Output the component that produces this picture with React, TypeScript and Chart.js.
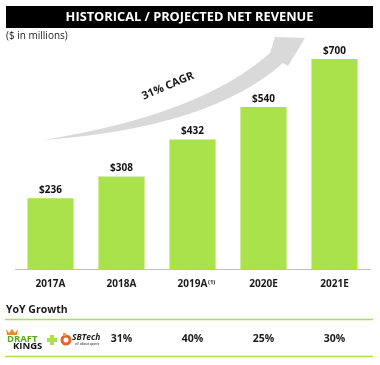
import React, { useEffect, useRef } from "react";
import { Chart, registerables } from "chart.js";

Chart.register(...registerables);

const categories = ["2017A", "2018A", "2019A", "2020E", "2021E"];
const netRevenue = [236, 308, 432, 540, 700];
const yoyGrowth: (number | null)[] = [null, 31, 40, 25, 30];
const footnoteCategory = "2019A";
const footnoteMark = "(1)";
const titleText = "HISTORICAL / PROJECTED NET REVENUE";
const unitsText = "($ in millions)";
const cagrText = "31% CAGR";
const yoyHeader = "YoY Growth";

const GREEN = "#a9e24b";
const FONT = "'Open Sans', 'DejaVu Sans', sans-serif";

const overlay = {
  id: "overlay",
  beforeDatasetsDraw(chart: any) {
    const ctx = chart.ctx;
    ctx.save();
    // curved arrow
    ctx.fillStyle = "#d9d9d9";
    ctx.beginPath();
    ctx.moveTo(43, 140);
    ctx.quadraticCurveTo(200, 115, 270, 53);
    ctx.lineTo(275, 37);
    ctx.lineTo(305, 38);
    ctx.lineTo(288, 66);
    ctx.lineTo(283, 63);
    ctx.quadraticCurveTo(210, 128, 43, 140);
    ctx.closePath();
    ctx.fill();
    // CAGR text
    ctx.translate(168, 86);
    ctx.rotate((-23 * Math.PI) / 180);
    ctx.fillStyle = "#1a1a1a";
    ctx.font = `bold 11px ${FONT}`;
    ctx.textAlign = "center";
    ctx.textBaseline = "middle";
    ctx.fillText(cagrText, 0, 0);
    ctx.restore();
  },
  afterDraw(chart: any) {
    const ctx = chart.ctx;
    const xScale = chart.scales.x;
    ctx.save();
    // title bar
    ctx.fillStyle = "#000000";
    ctx.fillRect(6, 6, 367, 22);
    ctx.fillStyle = "#ffffff";
    ctx.font = `bold 12.8px ${FONT}`;
    ctx.textAlign = "center";
    ctx.textBaseline = "middle";
    ctx.fillText(titleText, 189.5, 17.5);
    // units
    ctx.fillStyle = "#1a1a1a";
    ctx.font = `10px ${FONT}`;
    ctx.textAlign = "left";
    ctx.fillText(unitsText, 6, 36);
    // value labels
    const meta = chart.getDatasetMeta(0);
    ctx.font = `bold 10px ${FONT}`;
    ctx.textAlign = "center";
    ctx.fillStyle = "#111111";
    meta.data.forEach((bar: any, i: number) => {
      ctx.fillText("$" + netRevenue[i], bar.x, bar.y - 8);
    });
    // footnote mark on tick
    const fi = categories.indexOf(footnoteCategory);
    if (fi >= 0) {
      const px = xScale.getPixelForValue(fi);
      ctx.font = `bold 10px ${FONT}`;
      const w = ctx.measureText(footnoteCategory).width;
      ctx.font = `bold 6px ${FONT}`;
      ctx.textAlign = "left";
      ctx.fillStyle = "#1a1a1a";
      ctx.fillText(footnoteMark, px + w / 2 + 0.5, 282);
    }
    // YoY header
    ctx.font = `bold 10.5px ${FONT}`;
    ctx.textAlign = "left";
    ctx.fillStyle = "#1a1a1a";
    ctx.fillText(yoyHeader, 6, 310);
    // green lines
    ctx.strokeStyle = GREEN;
    ctx.lineWidth = 1.5;
    ctx.beginPath();
    ctx.moveTo(5, 319.5);
    ctx.lineTo(373, 319.5);
    ctx.moveTo(5, 356.5);
    ctx.lineTo(373, 356.5);
    ctx.stroke();
    // logos (approximation)
    ctx.fillStyle = "#f08a24";
    ctx.beginPath();
    ctx.moveTo(6, 329);
    ctx.lineTo(9, 333);
    ctx.lineTo(12, 329);
    ctx.lineTo(15, 333);
    ctx.lineTo(18, 329);
    ctx.lineTo(17, 335);
    ctx.lineTo(7, 335);
    ctx.closePath();
    ctx.fill();
    ctx.font = `bold 9.5px ${FONT}`;
    ctx.fillStyle = "#5aa81e";
    ctx.textAlign = "left";
    ctx.fillText("DRAFT", 7, 339);
    ctx.fillStyle = "#111111";
    ctx.fillText("KINGS", 13, 346.5);
    // plus
    ctx.fillStyle = GREEN;
    ctx.fillRect(47, 338, 10, 4);
    ctx.fillRect(50, 335, 4, 10);
    // SBTech icon
    ctx.fillStyle = "#e8622a";
    ctx.beginPath();
    ctx.arc(66, 340, 5.5, 0, Math.PI * 2);
    ctx.fill();
    ctx.fillStyle = "#ffffff";
    ctx.beginPath();
    ctx.arc(66, 340, 2.5, 0, Math.PI * 2);
    ctx.fill();
    ctx.fillStyle = "#f4a04a";
    ctx.fillRect(63, 333, 3, 3);
    ctx.fillStyle = "#222222";
    ctx.font = `italic bold 8.5px ${FONT}`;
    ctx.fillText("SBTech", 72, 337.5);
    ctx.font = `italic 3.5px ${FONT}`;
    ctx.fillText("all about sports", 75, 344);
    // percentages
    ctx.font = `bold 10.5px ${FONT}`;
    ctx.textAlign = "center";
    ctx.fillStyle = "#1a1a1a";
    yoyGrowth.forEach((g, i) => {
      if (g === null) return;
      ctx.fillText(g + "%", xScale.getPixelForValue(i), 339);
    });
    ctx.restore();
  },
};

export default function App() {
  const ref = useRef<HTMLCanvasElement | null>(null);
  useEffect(() => {
    if (!ref.current) return;
    const chart = new Chart(ref.current, {
      type: "bar",
      data: {
        labels: categories,
        datasets: [
          {
            data: netRevenue,
            backgroundColor: GREEN,
            borderWidth: 0,
            barPercentage: 0.65,
            categoryPercentage: 1,
          },
        ],
      },
      options: {
        animation: false,
        responsive: true,
        maintainAspectRatio: false,
        devicePixelRatio: 1,
        layout: { padding: { left: 15, right: 10, top: 29, bottom: 0 } },
        plugins: {
          legend: { display: false },
          tooltip: { enabled: false },
          title: { display: false },
        },
        scales: {
          y: {
            display: false,
            min: 0,
            max: 800,
          },
          x: {
            grid: { display: false },
            border: { display: true, color: "#bfbfbf", width: 1 },
            ticks: {
              color: "#1a1a1a",
              font: { family: FONT, size: 10, weight: "bold" },
              padding: 1,
            },
            afterFit: (scale: any) => {
              scale.height = 96;
            },
          },
        },
      },
      plugins: [overlay],
    });
    return () => chart.destroy();
  }, []);
  return (
    <div style={{ position: "absolute", left: 0, top: 0, width: 380, height: 365, background: "#ffffff" }}>
      <canvas ref={ref} />
    </div>
  );
}
